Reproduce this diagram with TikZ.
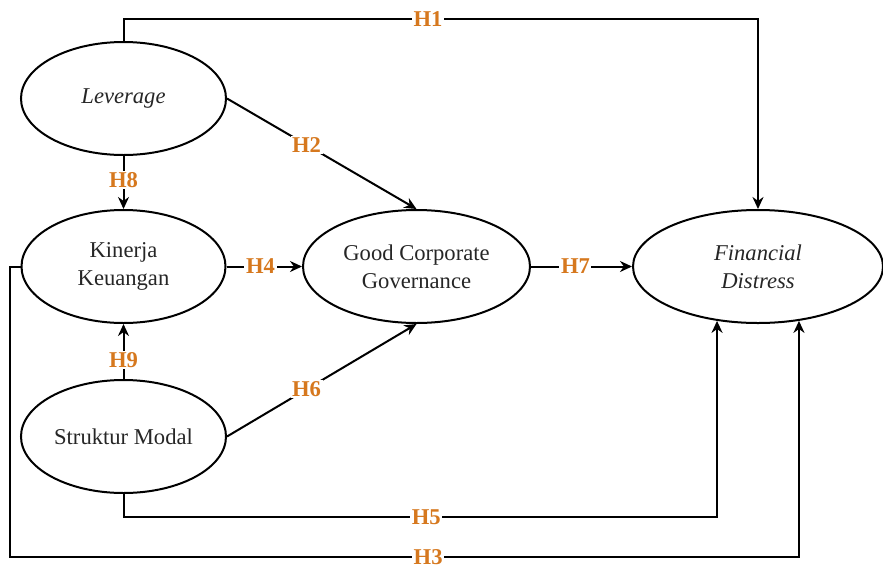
\documentclass[tikz,border=0pt]{standalone}
\usepackage{fontspec}
\setmainfont{Liberation Serif}
\usetikzlibrary{arrows.meta,shapes.geometric}
\definecolor{hypcolor}{RGB}{214,120,30}
\begin{document}
\begin{tikzpicture}[x=0.5pt,y=-0.5pt,
        var/.style={draw,ellipse,line width=1pt,inner sep=0pt,
            minimum height=56.5pt,align=center,text=black!85,
            font=\fontsize{11.3}{14}\selectfont},
        lbl/.style={fill=white,inner sep=0.8pt,text=hypcolor,
            font=\fontsize{11.3}{14}\selectfont\bfseries},
        hyp/.style={line width=1pt,-{Stealth[length=6pt,width=5.5pt]}}]
            \useasboundingbox (0,0) rectangle (883,568);

            \node[var,minimum width=102.5pt] (lev) at (123.5,98.5) {\textit{Leverage}};
            \node[var,minimum width=102pt] (kin) at (123.5,266.5) {Kinerja\\Keuangan};
            \node[var,minimum width=102.5pt] (sm) at (123.5,436.5) {Struktur Modal};
            \node[var,minimum width=113.5pt] (gcg) at (416.5,266.5) {Good Corporate\\Governance};
            \node[var,minimum width=125pt] (fd) at (758,266.5) {\textit{Financial}\\\textit{Distress}};

            \coordinate (h1y) at (0,19);
            \coordinate (h5y) at (0,517);
            \coordinate (h3c) at (10,557);

            \draw[hyp] (lev.north) -- (lev.north |- h1y)
                -- node[lbl,pos=0.48] {H1} (fd.north |- h1y) -- (fd.north);
            \draw[hyp] (lev.east) -- node[lbl,pos=0.42] {H2} (gcg.north);
            \draw[hyp] (lev.south) -- node[lbl,pos=0.45] {H8} (kin.north);
            \draw[hyp] (kin.east) -- node[lbl,pos=0.45] {H4} (gcg.west);
            \draw[hyp] (sm.north) -- node[lbl,pos=0.35] {H9} (kin.south);
            \draw[hyp] (sm.east) -- node[lbl,pos=0.42] {H6} (gcg.south);
            \draw[hyp] (gcg.east) -- node[lbl,pos=0.44] {H7} (fd.west);
            \draw[hyp] (sm.south) -- (sm.south |- h5y)
                -- node[lbl,pos=0.51] {H5} (fd.233 |- h5y) -- (fd.233);
            \draw[hyp] (kin.west) -| (h3c)
                -- node[lbl,pos=0.53] {H3} (fd.307 |- h3c) -- (fd.307);
\end{tikzpicture}
\end{document}
